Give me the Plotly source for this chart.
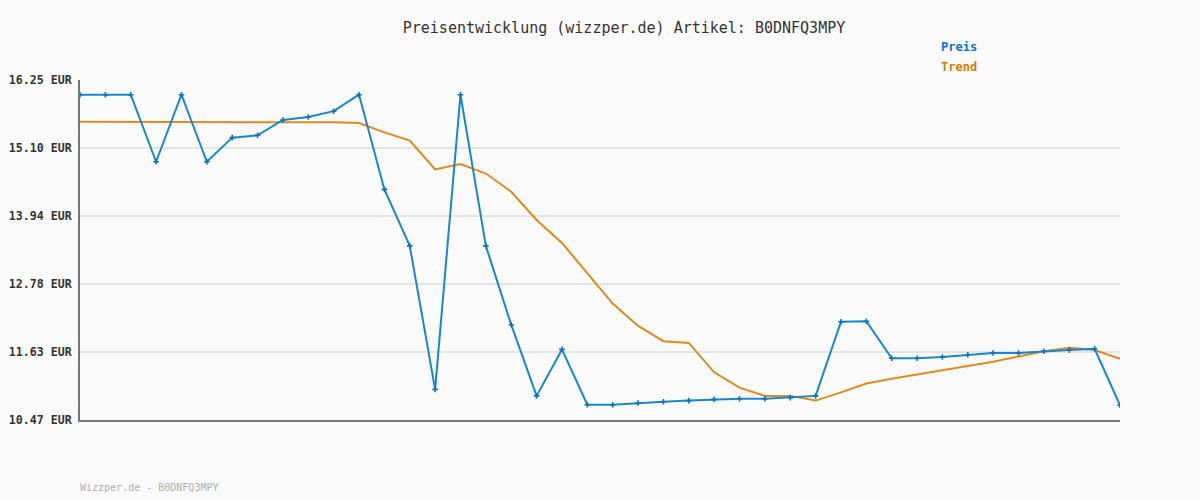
import plotly.graph_objects as go

idx = list(range(42))
preis = [16.00, 16.00, 16.00, 14.86, 16.00, 14.86, 15.27, 15.31, 15.57, 15.62,
         15.72, 16.00, 14.39, 13.43, 10.99, 16.00, 13.43, 12.09, 10.88, 11.67,
         10.73, 10.73, 10.76, 10.78, 10.80, 10.82, 10.83, 10.83, 10.85, 10.88,
         12.14, 12.15, 11.52, 11.52, 11.54, 11.58, 11.61, 11.61, 11.64, 11.66,
         11.68, 10.72]
trend = [15.54, 15.54, 15.54, 15.54, 15.54, 15.54, 15.54, 15.54, 15.54, 15.54,
         15.53, 15.52, 15.36, 15.22, 14.73, 14.82, 14.66, 14.35, 13.87, 13.48,
         12.97, 12.45, 12.07, 11.81, 11.78, 11.28, 11.02, 10.88, 10.88, 10.80,
         10.94, 11.09, 11.17, 11.24, 11.31, 11.39, 11.46, 11.55, 11.64, 11.70,
         11.66, 11.51]
tick_vals = [10.47, 11.63, 12.78, 13.94, 15.10, 16.25]
tick_text = ["10.47 EUR", "11.63 EUR", "12.78 EUR", "13.94 EUR", "15.10 EUR", "16.25 EUR"]

mono = "DejaVu Sans Mono"
blue = "#1a86d0"
orange = "#e08a1e"

fig = go.Figure()
fig.add_trace(go.Scatter(x=idx, y=trend, mode="lines", name="Trend",
                         line=dict(color=orange, width=2)))
fig.add_trace(go.Scatter(x=idx, y=preis, mode="lines+markers", name="Preis",
                         line=dict(color=blue, width=2),
                         marker=dict(symbol="cross-thin", size=4,
                                     line=dict(color="#0b72c0", width=1.6))))

fig.update_layout(
    width=1200, height=500,
    margin=dict(l=80, r=80, t=80, b=80, autoexpand=False),
    paper_bgcolor="#fafafa", plot_bgcolor="#fafafa",
    showlegend=False,
    title=dict(text="Preisentwicklung (wizzper.de) Artikel: B0DNFQ3MPY",
               x=0.52, xanchor="center", y=0.944, yanchor="middle",
               font=dict(family=mono, size=15, color="#333333")),
    xaxis=dict(range=[0, 41], showticklabels=False, showgrid=False,
               zeroline=False, showline=True, linecolor="#777777", linewidth=2,
               ticks="", automargin=False),
    yaxis=dict(range=[10.47, 16.25], tickvals=tick_vals, ticktext=tick_text,
               showgrid=True, gridcolor="#e4e4e4", gridwidth=2,
               zeroline=False, showline=True, linecolor="#777777", linewidth=2,
               ticks="", ticklabelstandoff=4, automargin=False,
               tickfont=dict(family=mono, size=11.6, color="#333333", weight="bold")),
    annotations=[
        dict(text="<b>Preis</b>", xref="paper", yref="paper", x=(939 - 80) / 1040,
             y=(500 - 47 - 80) / 340, xanchor="left", yanchor="middle",
             showarrow=False, font=dict(family=mono, size=12, color="#0a74c4")),
        dict(text="<b>Trend</b>", xref="paper", yref="paper", x=(939 - 80) / 1040,
             y=(500 - 67 - 80) / 340, xanchor="left", yanchor="middle",
             showarrow=False, font=dict(family=mono, size=12, color="#dc7a00")),
        dict(text="Wizzper.de - B0DNFQ3MPY", xref="paper", yref="paper", x=0,
             xshift=-2, y=(500 - 487 - 80) / 340, xanchor="left", yanchor="middle",
             showarrow=False, font=dict(family=mono, size=10, color="#b0b0b0")),
    ],
)
fig.write_html("out.html", config={"displayModeBar": False},
               post_script="document.body.style.margin='0';document.body.style.background='#fafafa';")
